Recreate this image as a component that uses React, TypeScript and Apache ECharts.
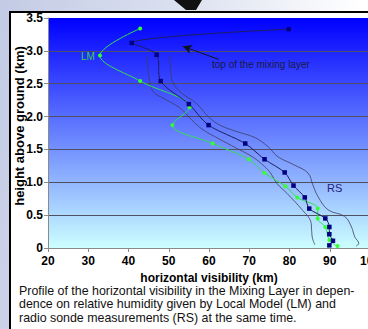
import React, { useEffect, useRef } from "react";
import * as echarts from "echarts";

// Local Model (LM): horizontal visibility (km) vs height above ground (km)
const lmVisibility = [42.9, 32.9, 42.9, 55.2, 50.9, 60.9, 69.9, 73.8, 79.0, 81.9, 87.0, 87.0, 88.9, 89.9, 91.9];
const lmHeight = [3.34, 2.93, 2.54, 2.14, 1.87, 1.59, 1.35, 1.14, 0.94, 0.77, 0.60, 0.45, 0.32, 0.12, 0.03];

// Radio sonde (RS)
const rsVisibility = [79.8, 40.8, 47.0, 48.0, 55.0, 59.9, 69.0, 73.8, 78.8, 81.0, 83.8, 84.9, 88.9, 89.9, 89.9, 90.8, 89.9];
const rsHeight = [3.33, 3.12, 2.94, 2.54, 2.19, 1.87, 1.59, 1.35, 1.15, 0.95, 0.77, 0.60, 0.45, 0.32, 0.21, 0.11, 0.04];

// RS envelope (thin lines)
const lowerEnvVisibility = [44.6, 45.1, 46.1, 48.6, 52.8, 55.7, 58.5, 62.5, 66.8, 71.0, 73.8, 75.3, 76.9, 79.4, 83.3, 85.3, 85.5, 85.7, 86.3];
const lowerEnvHeight = [2.92, 2.59, 2.38, 2.28, 2.13, 1.95, 1.80, 1.66, 1.52, 1.38, 1.24, 1.14, 0.98, 0.83, 0.57, 0.40, 0.27, 0.15, 0.05];
const upperEnvVisibility = [50.3, 50.7, 52.8, 56.9, 59.8, 62.7, 67.0, 71.4, 74.7, 77.1, 81.3, 84.6, 85.8, 87.1, 89.6, 93.7, 95.4, 96.2, 97.2, 96.6];
const upperEnvHeight = [2.92, 2.58, 2.38, 2.20, 2.00, 1.87, 1.77, 1.68, 1.54, 1.39, 1.26, 1.14, 0.96, 0.78, 0.58, 0.48, 0.32, 0.17, 0.07, 0.03];

// Arrow "top of the mixing layer": from -> to (visibility, height)
const arrowFrom = [62.4, 2.87];
const arrowTo = [53.5, 3.07];

const xTicks = { min: 20, max: 100, interval: 10 };
const yTicks = { min: 0, max: 3.5, interval: 0.5 };

const yAxisTitle = "height above ground (km)";
const xAxisTitle = "horizontal visibility (km)";

const captionLines = [
  "Profile of the horizontal visibility in the Mixing Layer in depen-",
  "dence on relative humidity given by Local Model (LM) and",
  "radio sonde measurements (RS) at the same time.",
];

const FONT = 'Arial, "Liberation Sans", sans-serif';

const zip = (xs: number[], ys: number[]) => xs.map((x, i) => [x, ys[i]]);

export default function App() {
  const ref = useRef<HTMLDivElement>(null);
  useEffect(() => {
    if (!ref.current) return;
    const chart = echarts.init(ref.current, null, { renderer: "svg" });
    const axisGrey = "#8a8a8a";
    chart.setOption({
      animation: false,
      grid: {
        left: 48,
        top: 18,
        width: 322,
        height: 230,
        containLabel: false,
        outerBoundsMode: "none",
        show: true,
        borderWidth: 0,
        backgroundColor: new echarts.graphic.LinearGradient(0, 0, 0, 1, [
          { offset: 0, color: "#0000ff" },
          { offset: 1, color: "#ccffff" },
        ]),
      },
      xAxis: {
        type: "value",
        min: xTicks.min,
        max: xTicks.max,
        interval: xTicks.interval,
        name: xAxisTitle,
        nameLocation: "middle",
        nameGap: 20,
        nameTextStyle: { fontFamily: FONT, fontWeight: "bold", fontSize: 12, color: "#000" },
        axisLine: { show: true, lineStyle: { color: axisGrey, width: 1 } },
        axisTick: { show: true, inside: false, length: 4, lineStyle: { color: axisGrey } },
        axisLabel: { fontFamily: FONT, fontWeight: "bold", fontSize: 12, color: "#000", margin: 7, hideOverlap: false },
        splitLine: { show: false },
      },
      yAxis: {
        type: "value",
        min: yTicks.min,
        max: yTicks.max,
        interval: yTicks.interval,
        axisLine: { show: true, lineStyle: { color: axisGrey, width: 1 } },
        axisTick: { show: true, inside: false, length: 4, lineStyle: { color: axisGrey } },
        axisLabel: {
          fontFamily: FONT,
          fontWeight: "bold",
          fontSize: 12,
          color: "#000",
          margin: 5,
          formatter: (v: number) => (v === 0 ? "0" : v.toFixed(1)),
        },
        splitLine: { show: true, showMinLine: false, showMaxLine: false, lineStyle: { color: "#4e5060", width: 1 } },
      },
      series: [
        {
          type: "line",
          data: zip(lowerEnvVisibility, lowerEnvHeight),
          smooth: 0.4,
          symbol: "none",
          lineStyle: { color: "#3c3e5e", width: 0.8 },
          z: 2,
        },
        {
          type: "line",
          data: zip(upperEnvVisibility, upperEnvHeight),
          smooth: 0.4,
          symbol: "none",
          lineStyle: { color: "#3c3e5e", width: 0.8 },
          z: 2,
        },
        {
          name: "LM",
          type: "line",
          data: zip(lmVisibility, lmHeight),
          smooth: 0.35,
          symbol: "circle",
          symbolSize: 4,
          itemStyle: { color: "#33ff33" },
          lineStyle: { color: "#33dd55", width: 1 },
          z: 3,
        },
        {
          name: "RS",
          type: "line",
          data: zip(rsVisibility, rsHeight),
          smooth: 0.3,
          symbol: "rect",
          symbolSize: 4.5,
          itemStyle: { color: "#000080" },
          lineStyle: { color: "#1e1e5e", width: 1 },
          z: 4,
          markLine: {
            silent: true,
            symbol: ["none", "arrow"],
            symbolSize: [7, 9],
            label: { show: false },
            lineStyle: { color: "#101020", width: 1, type: "solid" },
            data: [[{ coord: arrowFrom }, { coord: arrowTo }]],
          },
        },
      ],
      graphic: [
        {
          type: "polygon",
          shape: { points: [[174, 0], [202, 0], [196, 10], [186, 10]] },
          style: { fill: "#111" },
          silent: true,
        },
        {
          type: "text",
          x: 19,
          y: 126,
          rotation: Math.PI / 2,
          silent: true,
          style: {
            text: yAxisTitle,
            fontFamily: FONT,
            fontWeight: "bold",
            fontSize: 13,
            fill: "#000",
            align: "center",
            verticalAlign: "middle",
          },
        },
        {
          type: "text",
          x: 212,
          y: 59,
          silent: true,
          style: { text: "top of the mixing layer", fontFamily: FONT, fontSize: 10, fill: "#1a1a48" },
        },
        {
          type: "text",
          x: 81,
          y: 51,
          silent: true,
          style: { text: "LM", fontFamily: FONT, fontSize: 10, fill: "#3ccf44" },
        },
        {
          type: "text",
          x: 327,
          y: 182,
          silent: true,
          style: { text: "RS", fontFamily: FONT, fontSize: 11, fill: "#22227a" },
        },
        ...captionLines.map((line, i) => ({
          type: "text",
          x: 19,
          y: 291 + i * 13.3,
          silent: true,
          style: {
            text: line,
            fontFamily: FONT,
            fontSize: 12.4,
            fill: "#111",
            verticalAlign: "middle",
          },
        })),
      ],
    });
    return () => chart.dispose();
  }, []);

  return (
    <div
      style={{
        position: "fixed",
        left: 0,
        top: 0,
        width: 368,
        height: 329,
        overflow: "hidden",
        background: "linear-gradient(100deg, #c3cbe5 0%, #dde2f0 45%, #ffffff 85%)",
      }}
    >
      <div
        style={{
          position: "absolute",
          left: 9,
          top: 11,
          width: 400,
          height: 400,
          background: "#ffffff",
          borderLeft: "2px solid #000",
          borderTop: "2px solid #000",
        }}
      />
      <div ref={ref} style={{ position: "absolute", left: 0, top: 0, width: 368, height: 329 }} />
    </div>
  );
}
